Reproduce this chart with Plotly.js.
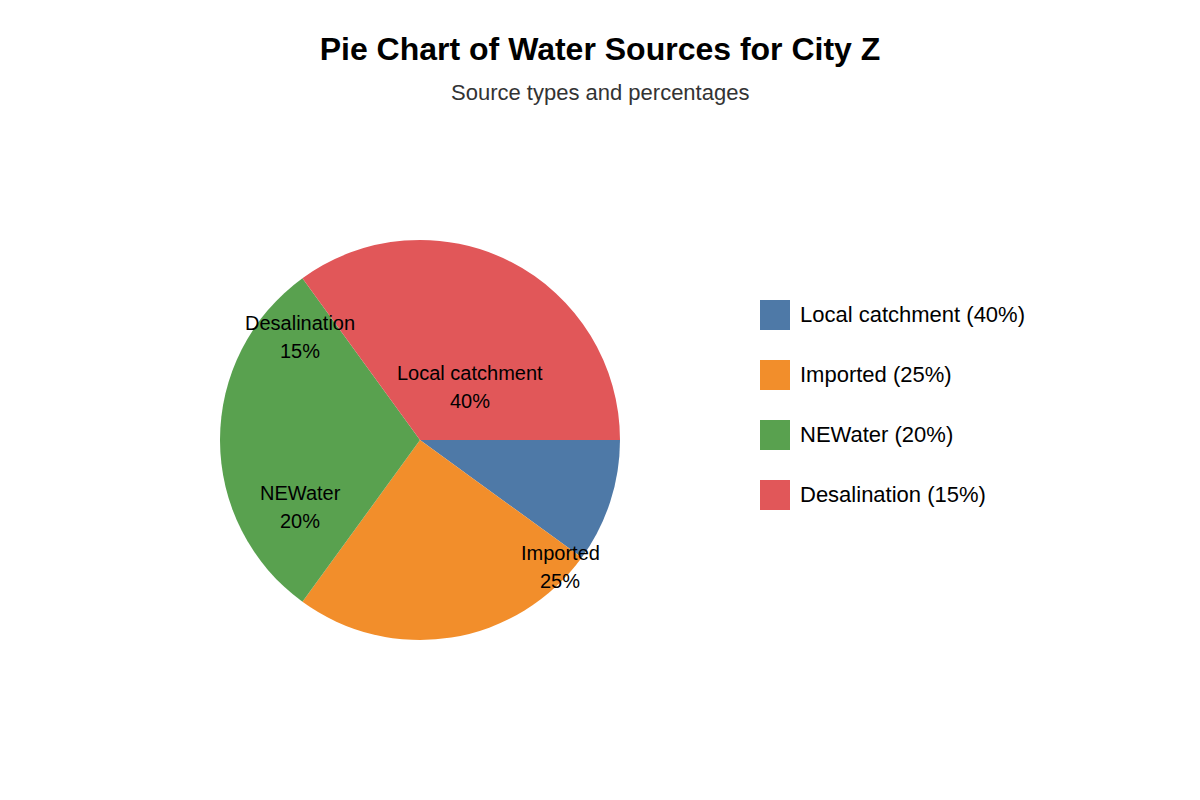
<!DOCTYPE html>
<html>
<head>
<meta charset="utf-8">
<script src="https://cdn.plot.ly/plotly-3.0.1.min.js"></script>
<style>
	body { margin: 0; background: #fff; }
	#chart { width: 1200px; height: 800px; }
</style>
</head>
<body>
<div id="chart"></div>
<script>
// categories and the shares printed on the chart
var sources = ["Local catchment", "Imported", "NEWater", "Desalination"];
var shares = [40, 25, 20, 15];
// angular size of each slice as it is drawn in the picture (percent of the circle)
var sliceSizes = [10, 25, 30, 35];
var colors = ["#4e79a7", "#f28e2b", "#59a14f", "#e15759"];

// where the in-pie labels sit (pixels), same order as sources
var labelSpots = [[470, 387], [560, 567], [300, 507], [300, 337]];

var W = 1200, H = 800;
var FONT = "Liberation Sans, Arial, sans-serif";

function px(x){ return x / W; }
function py(y){ return 1 - y / H; }

var pie = {
	type: "pie",
	labels: sources,
	values: sliceSizes,
	sort: false,
	direction: "clockwise",
	rotation: 90,
	marker: { colors: colors, line: { width: 0 } },
	textinfo: "none",
	hoverinfo: "none",
	showlegend: false,
	domain: { x: [px(220), px(620)], y: [py(640), py(240)] }
};

var annotations = [];
var shapes = [];

// subtitle
annotations.push({
	text: "Source types and percentages",
	xref: "paper", yref: "paper",
	x: 0.5, y: py(92),
	xanchor: "center", yanchor: "middle",
	showarrow: false,
	font: { family: FONT, size: 22, color: "#333333" }
});

for (var i = 0; i < sources.length; i++){
	// labels inside the pie
	var s = labelSpots[i];
	annotations.push({
		text: sources[i],
		xref: "paper", yref: "paper",
		x: px(s[0]), y: py(s[1] - 14),
		xanchor: "center", yanchor: "middle",
		showarrow: false,
		font: { family: FONT, size: 20, color: "#000000" }
	});
	annotations.push({
		text: shares[i] + "%",
		xref: "paper", yref: "paper",
		x: px(s[0]), y: py(s[1] + 14),
		xanchor: "center", yanchor: "middle",
		showarrow: false,
		font: { family: FONT, size: 20, color: "#000000" }
	});

	// legend on the right
	var rowTop = 300 + 60 * i;
	shapes.push({
		type: "rect",
		xref: "paper", yref: "paper",
		x0: px(760), x1: px(790),
		y0: py(rowTop + 30), y1: py(rowTop),
		fillcolor: colors[i],
		line: { width: 0 }
	});
	annotations.push({
		text: sources[i] + " (" + shares[i] + "%)",
		xref: "paper", yref: "paper",
		x: px(798), y: py(rowTop + 14),
		xanchor: "left", yanchor: "middle",
		showarrow: false,
		font: { family: FONT, size: 22, color: "#000000" }
	});
}

var layout = {
	width: W,
	height: H,
	margin: { l: 0, r: 0, t: 0, b: 0 },
	paper_bgcolor: "#ffffff",
	showlegend: false,
	title: {
		text: "<b>Pie Chart of Water Sources for City Z</b>",
		x: 0.5, xanchor: "center",
		y: py(49), yanchor: "middle",
		yref: "container",
		font: { family: FONT, size: 32, color: "#000000" }
	},
	annotations: annotations,
	shapes: shapes
};

Plotly.newPlot("chart", [pie], layout, { displayModeBar: false, staticPlot: true });
</script>
</body>
</html>
